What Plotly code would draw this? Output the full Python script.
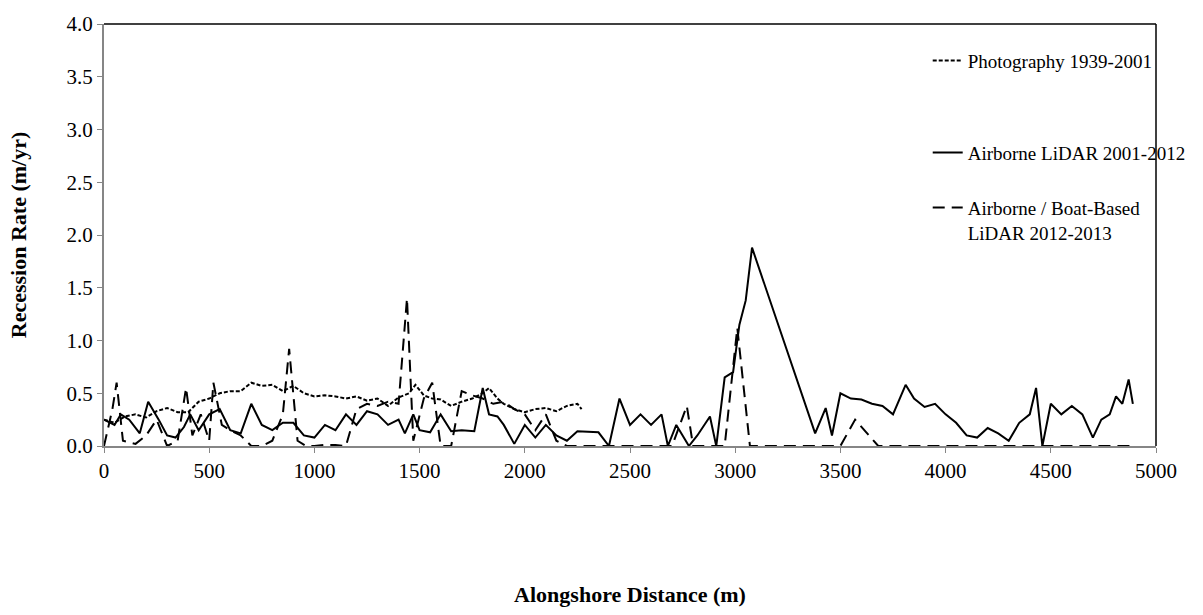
import plotly.graph_objects as go

# Photography 1939-2001
photo_x = [0, 50, 100, 150, 200, 250, 300, 350, 400, 450, 500, 550, 600, 650, 700, 750, 800, 850, 900,
           950, 1000, 1050, 1100, 1150, 1200, 1250, 1300, 1350, 1400, 1450, 1480, 1520, 1560, 1600, 1650,
           1700, 1750, 1800, 1830, 1870, 1900, 1950, 2000, 2050, 2100, 2150, 2200, 2250, 2270]
photo_y = [0.25, 0.22, 0.28, 0.3, 0.27, 0.33, 0.36, 0.32, 0.32, 0.42, 0.45, 0.5, 0.52, 0.52, 0.6, 0.57, 0.58,
           0.52, 0.57, 0.5, 0.47, 0.48, 0.47, 0.45, 0.47, 0.43, 0.45, 0.38, 0.46, 0.5, 0.58, 0.48, 0.45, 0.44,
           0.38, 0.42, 0.45, 0.5, 0.55, 0.45, 0.4, 0.35, 0.32, 0.35, 0.36, 0.33, 0.38, 0.4, 0.35]

# Airborne LiDAR 2001-2012
lidar_x = [0, 50, 80, 120, 170, 210, 260, 300, 340, 380, 410, 450, 500, 550, 600, 650, 700, 750, 800,
           850, 900, 950, 1000, 1050, 1100, 1150, 1200, 1250, 1300, 1350, 1400, 1430, 1470, 1500, 1550,
           1600, 1650, 1700, 1760, 1800, 1830, 1870, 1900, 1950, 2000, 2050, 2100, 2150, 2200, 2250,
           2350, 2400, 2450, 2500, 2550, 2600, 2650, 2680, 2720, 2780, 2820, 2880, 2910, 2950, 2990,
           3020, 3050, 3080, 3380, 3430, 3460, 3500, 3550, 3600, 3650, 3700, 3750, 3810, 3850, 3900,
           3950, 4000, 4050, 4100, 4150, 4200, 4250, 4300, 4350, 4400, 4430, 4460, 4500, 4550, 4600,
           4650, 4700, 4740, 4780, 4810, 4840, 4870, 4890]
lidar_y = [0.25, 0.2, 0.3, 0.25, 0.12, 0.42, 0.25, 0.1, 0.08, 0.18, 0.3, 0.15, 0.3, 0.35, 0.15, 0.12,
           0.4, 0.2, 0.15, 0.22, 0.22, 0.1, 0.08, 0.2, 0.15, 0.3, 0.2, 0.33, 0.3, 0.2, 0.25, 0.12, 0.3,
           0.15, 0.13, 0.3, 0.14, 0.15, 0.14, 0.55, 0.3, 0.28, 0.2, 0.02, 0.2, 0.08, 0.2, 0.1, 0.05,
           0.14, 0.13, 0.0, 0.45, 0.2, 0.3, 0.2, 0.3, 0.0, 0.2, 0.0, 0.1, 0.28, 0.0, 0.65, 0.7, 1.15,
           1.38, 1.88, 0.12, 0.36, 0.1, 0.5, 0.45, 0.44, 0.4, 0.38, 0.3, 0.58, 0.45, 0.37, 0.4, 0.3,
           0.22, 0.1, 0.08, 0.17, 0.12, 0.05, 0.22, 0.3, 0.55, 0.0, 0.4, 0.3, 0.38, 0.3, 0.08, 0.25,
           0.3, 0.47, 0.4, 0.63, 0.4]

# Airborne / Boat-Based LiDAR 2012-2013
boat_x = [0, 40, 60, 90, 150, 200, 250, 300, 350, 390, 420, 460, 500, 520, 560, 600, 650, 700, 750,
          800, 850, 880, 920, 960, 1000, 1050, 1100, 1150, 1200, 1250, 1300, 1350, 1400, 1440, 1470,
          1520, 1560, 1600, 1650, 1700, 1750, 1800, 1850, 1900, 1950, 2000, 2050, 2100, 2150, 2200,
          2700, 2770, 2800, 2950, 3010, 3070, 3500, 3570, 3680, 4880]
boat_y = [0.0, 0.35, 0.6, 0.05, 0.02, 0.1, 0.25, 0.0, 0.05, 0.55, 0.1, 0.3, 0.05, 0.6, 0.2, 0.15, 0.1,
          0.0, 0.0, 0.05, 0.3, 0.92, 0.05, 0.0, 0.0, 0.01, 0.01, 0.0, 0.35, 0.4, 0.38, 0.42, 0.4, 1.4,
          0.05, 0.45, 0.6, 0.0, 0.0, 0.52, 0.48, 0.45, 0.4, 0.42, 0.35, 0.3, 0.15, 0.3, 0.05, 0.0,
          0.0, 0.38, 0.0, 0.0, 1.12, 0.0, 0.0, 0.25, 0.0, 0.0]

serif = "Liberation Serif, Times New Roman, serif"
leg_font = dict(family=serif, size=19, color="black")

fig = go.Figure()
fig.add_trace(go.Scatter(x=photo_x, y=photo_y, mode="lines", name="Photography 1939-2001",
                         legend="legend", showlegend=True,
                         line=dict(color="black", width=2, dash="4px,2px")))
fig.add_trace(go.Scatter(x=lidar_x, y=lidar_y, mode="lines", name="Airborne LiDAR 2001-2012",
                         legend="legend2", showlegend=True,
                         line=dict(color="black", width=2)))
fig.add_trace(go.Scatter(x=boat_x, y=boat_y, mode="lines",
                         name="Airborne / Boat-Based<br>LiDAR 2012-2013",
                         legend="legend3", showlegend=True,
                         line=dict(color="black", width=2, dash="12px,7px")))

leg_common = dict(x=0.783, xanchor="left", yanchor="top", font=leg_font,
                  bgcolor="rgba(0,0,0,0)", valign="top", visible=True)

fig.update_layout(
    width=1203, height=615,
    showlegend=True,
    margin=dict(l=104, r=38, t=16, b=168),
    paper_bgcolor="white", plot_bgcolor="white",
    font=dict(family=serif, size=21, color="black"),
    legend=dict(y=0.958, **leg_common),
    legend2=dict(y=0.74, **leg_common),
    legend3=dict(y=0.61, **leg_common),
    xaxis=dict(range=[0, 5000], dtick=500, tick0=0, showgrid=False, zeroline=False,
               showline=True, linecolor="#868686", linewidth=2,
               ticks="outside", ticklen=5, tickcolor="#868686",
               tickfont=dict(family=serif, size=21),
               title=dict(text="<b>Alongshore Distance (m)</b>", font=dict(family=serif, size=22),
                          standoff=104)),
    yaxis=dict(range=[0, 4], dtick=0.5, tick0=0, tickformat=".1f", showgrid=False, zeroline=False,
               showline=True, linecolor="#868686", linewidth=2,
               ticks="outside", ticklen=5, tickcolor="#868686",
               tickfont=dict(family=serif, size=21),
               title=dict(text="<b>Recession Rate (m/yr)</b>", font=dict(family=serif, size=22),
                          standoff=34)),
    shapes=[
        dict(type="line", xref="paper", yref="paper", x0=0, x1=1, y0=1, y1=1,
             line=dict(color="black", width=1.5)),
        dict(type="line", xref="paper", yref="paper", x0=1, x1=1, y0=0, y1=1,
             line=dict(color="black", width=1.5)),
    ],
)

fig.write_html("out.html")
